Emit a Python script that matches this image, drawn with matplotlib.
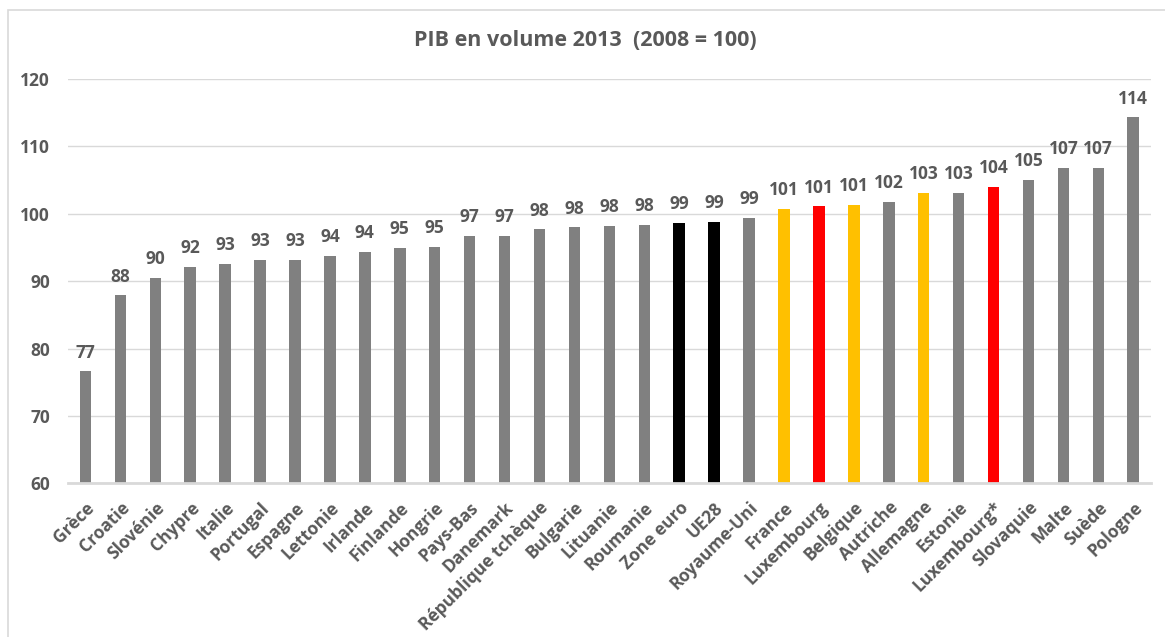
import matplotlib
matplotlib.use("Agg")
import matplotlib.pyplot as plt
from matplotlib.patches import Rectangle

# PIB en volume 2013, base 2008 = 100
pays = ["Grèce", "Croatie", "Slovénie", "Chypre", "Italie", "Portugal",
        "Espagne", "Lettonie", "Irlande", "Finlande", "Hongrie", "Pays-Bas",
        "Danemark", "République tchèque", "Bulgarie", "Lituanie", "Roumanie",
        "Zone euro", "UE28", "Royaume-Uni", "France", "Luxembourg",
        "Belgique", "Autriche", "Allemagne", "Estonie", "Luxembourg*",
        "Slovaquie", "Malte", "Suède", "Pologne"]
pib_2013 = [76.6, 87.9, 90.5, 92.1, 92.6, 93.2, 93.2, 93.7, 94.4, 94.9,
            95.1, 96.7, 96.7, 97.7, 98.0, 98.2, 98.3, 98.6, 98.8, 99.4,
            100.7, 101.1, 101.3, 101.8, 103.1, 103.1, 104.0, 105.0,
            106.8, 106.8, 114.3]
groupe = ["autre"] * 17 + ["agregat", "agregat", "autre", "voisin",
          "lux", "voisin", "autre", "voisin", "autre", "lux",
          "autre", "autre", "autre", "autre"]

couleurs = {"autre": "#808080", "agregat": "#000000",
            "voisin": "#FFC000", "lux": "#FF0000"}
texte = "#595959"
grille = "#D9D9D9"

plt.rcParams["font.family"] = ["Open Sans", "DejaVu Sans"]
plt.rcParams["font.weight"] = "bold"

fig = plt.figure(figsize=(11.65, 6.37), dpi=100)
fig.patch.set_facecolor("white")

# chart border
fig.patches.append(Rectangle((7.5 / 1165, -0.1), 1.2, 1 - 10 / 637 + 0.1,
                             transform=fig.transFigure, fill=False,
                             edgecolor=grille, linewidth=1.2))

ax = fig.add_axes([68 / 1165, 1 - 483.3 / 637,
                   (1150.7 - 68) / 1165, (483.3 - 79) / 637])

x = list(range(len(pays)))
ax.bar(x, [v - 60 for v in pib_2013], bottom=60, width=0.33,
       color=[couleurs[g] for g in groupe], zorder=3)

for xi, v in zip(x, pib_2013):
    ax.annotate(f"{round(v)}", (xi, v), xytext=(0, 7),
                textcoords="offset points", ha="center", va="bottom",
                fontsize=12.5, fontweight="bold", color=texte)

ax.set_xlim(-0.5, len(pays) - 0.5)
ax.set_ylim(60, 120)
ax.set_yticks(range(60, 121, 10))
ax.yaxis.grid(True, color=grille, linewidth=1, zorder=0)
ax.set_axisbelow(True)

for s in ["top", "right", "left"]:
    ax.spines[s].set_visible(False)
ax.spines["bottom"].set_color(grille)
ax.spines["bottom"].set_linewidth(2)
ax.spines["bottom"].set_zorder(4)

ax.tick_params(axis="y", length=0, pad=13, labelsize=12.5, labelcolor=texte)
ax.tick_params(axis="x", length=0, pad=11)
ax.set_xticks(x)
ax.set_xticklabels(pays, rotation=45, ha="right", rotation_mode="anchor",
                   fontsize=12.5, fontweight="bold", color=texte)
for lab in ax.get_yticklabels():
    lab.set_fontweight("bold")

fig.text(585 / 1165, 1 - 40 / 637, "PIB en volume 2013  (2008 = 100)",
         ha="center", va="center", fontsize=15.5, fontweight="bold",
         color=texte)

fig.savefig("out.png", dpi=100, facecolor="white")
